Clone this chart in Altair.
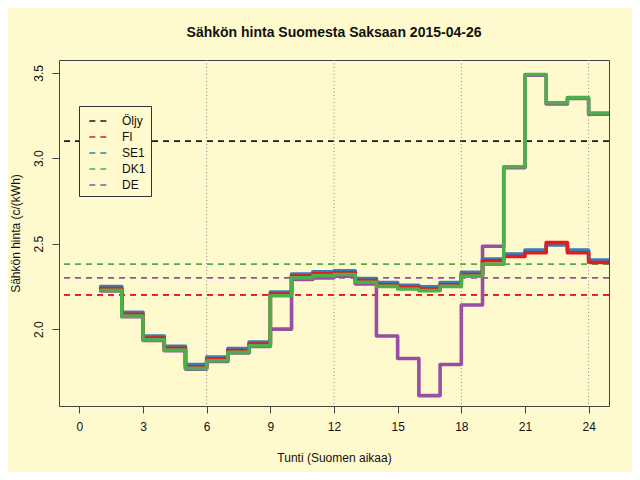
import altair as alt
import pandas as pd

# ---- data ----
hours = list(range(1, 25))
fi = [2.237, 2.086, 1.948, 1.887, 1.780, 1.825, 1.874, 1.913, 2.205, 2.310, 2.323, 2.330,
      2.284, 2.260, 2.245, 2.235, 2.260, 2.320, 2.400, 2.425, 2.447, 2.506, 2.447, 2.390]
se1 = [2.249, 2.098, 1.960, 1.899, 1.792, 1.837, 1.886, 1.925, 2.217, 2.322, 2.335, 2.342,
       2.296, 2.272, 2.257, 2.247, 2.272, 2.332, 2.410, 2.440, 2.462, 2.492, 2.462, 2.404]
dk1 = [2.227, 2.076, 1.938, 1.877, 1.770, 1.815, 1.864, 1.903, 2.195, 2.300, 2.313, 2.320,
       2.274, 2.250, 2.235, 2.225, 2.250, 2.310, 2.380, 2.950, 3.490, 3.325, 3.355, 3.265]
de = [2.223, 2.072, 1.934, 1.873, 1.766, 1.811, 1.860, 1.899, 2.000, 2.290, 2.300, 2.310,
      2.265, 1.960, 1.828, 1.611, 1.793, 2.141, 2.485, 2.945, 3.486, 3.318, 3.350, 3.258]

ref_names = ["Öljy", "FI", "SE1", "DK1", "DE"]
ref_values = [3.10, 2.20, 2.20, 2.38, 2.30]
ref_colors = ["#1a1a1a", "#E41A1C", "#377EB8", "#4DAF4A", "#984EA3"]

grid_hours = [6, 12, 18, 24]
x_ticks = [0, 3, 6, 9, 12, 15, 18, 21, 24]
y_ticks = [2.0, 2.5, 3.0, 3.5]

title_text = "Sähkön hinta Suomesta Saksaan 2015-04-26"
x_title = "Tunti (Suomen aikaa)"
y_title = "Sähkön hinta (c/(kWh)"

# ---- style ----
bg = "#FFFACD"
font = "Liberation Sans"
W, H = 550, 346

x_scale = alt.Scale(domain=[-0.96, 24.96], nice=False, zero=False)
y_scale = alt.Scale(domain=[1.55, 3.575], nice=False, zero=False)

x_axis = alt.Axis(values=x_ticks, title=x_title, grid=False, domain=False,
                  tickSize=7, tickColor="#444", labelFontSize=12, labelFont=font,
                  labelColor="#111", labelPadding=8, titleFont=font, titleFontSize=12,
                  titleFontWeight="normal", titleColor="#111", titleX=W / 2, titleY=51,
                  titleBaseline="middle", titleAlign="center")
y_axis = alt.Axis(values=y_ticks, format=".1f", title=y_title, grid=False, domain=False,
                  tickSize=7, tickColor="#444", labelFontSize=12, labelFont=font,
                  labelColor="#111", labelPadding=7, labelAngle=270, labelAlign="center",
                  labelBaseline="bottom", titleFont=font, titleFontSize=12,
                  titleFontWeight="normal", titleColor="#111", titleX=-44, titleY=H / 2,
                  titleAngle=270, titleBaseline="middle", titleAlign="center")

# reference (dashed) lines; SE1 drawn first so FI lies over it
ref_df = pd.DataFrame({"name": ref_names, "value": ref_values})
draw_order = ["SE1", "Öljy", "FI", "DK1", "DE"]
ref_df["o"] = ref_df["name"].map({n: i for i, n in enumerate(draw_order)})
ref_df = ref_df.sort_values("o")

ref_layer = alt.Chart(ref_df).mark_rule(strokeDash=[6, 5], strokeWidth=1.7).encode(
    y=alt.Y("value:Q", scale=y_scale, axis=y_axis),
    color=alt.Color("name:N", scale=alt.Scale(domain=ref_names, range=ref_colors),
                    legend=alt.Legend(title=None, orient="none", legendX=20, legendY=46,
                                      direction="vertical", symbolType="stroke",
                                      symbolSize=300, symbolStrokeWidth=1.7,
                                      symbolDash=[6, 5], symbolOffset=4,
                                      labelFontSize=12, labelFont=font,
                                      labelColor="#111", labelOffset=14, padding=5,
                                      rowPadding=0, strokeColor="#333", fillColor=bg,
                                      cornerRadius=0)),
)


def step_layer(vals, color):
    df = pd.DataFrame({"h": hours + [25], "v": vals + [vals[-1]]})
    return alt.Chart(df).mark_line(interpolate="step-after", color=color, strokeWidth=3.6,
                                   strokeJoin="round", strokeCap="round", clip=True).encode(
        x=alt.X("h:Q", scale=x_scale, axis=x_axis),
        y=alt.Y("v:Q", scale=y_scale, axis=y_axis),
    )


grid_layer = alt.Chart(pd.DataFrame({"h": grid_hours})).mark_rule(
    color="#888", strokeDash=[1, 2.5], strokeWidth=1).encode(
    x=alt.X("h:Q", scale=x_scale, axis=x_axis))

chart = alt.layer(
    ref_layer,
    step_layer(de, ref_colors[4]),
    step_layer(se1, ref_colors[2]),
    step_layer(fi, ref_colors[1]),
    step_layer(dk1, ref_colors[3]),
    grid_layer,
).properties(
    width=W, height=H,
    title=alt.TitleParams(title_text, fontSize=14, fontWeight="bold", font=font,
                          color="#111", anchor="middle", baseline="bottom", offset=6),
    autosize=alt.AutoSizeParams(type="none"),
    padding={"left": 51, "top": 52, "right": 23, "bottom": 66},
    background=bg,
).configure_view(stroke="#444", strokeWidth=1)

chart.save("out.html", embed_options={"renderer": "svg", "actions": False})
